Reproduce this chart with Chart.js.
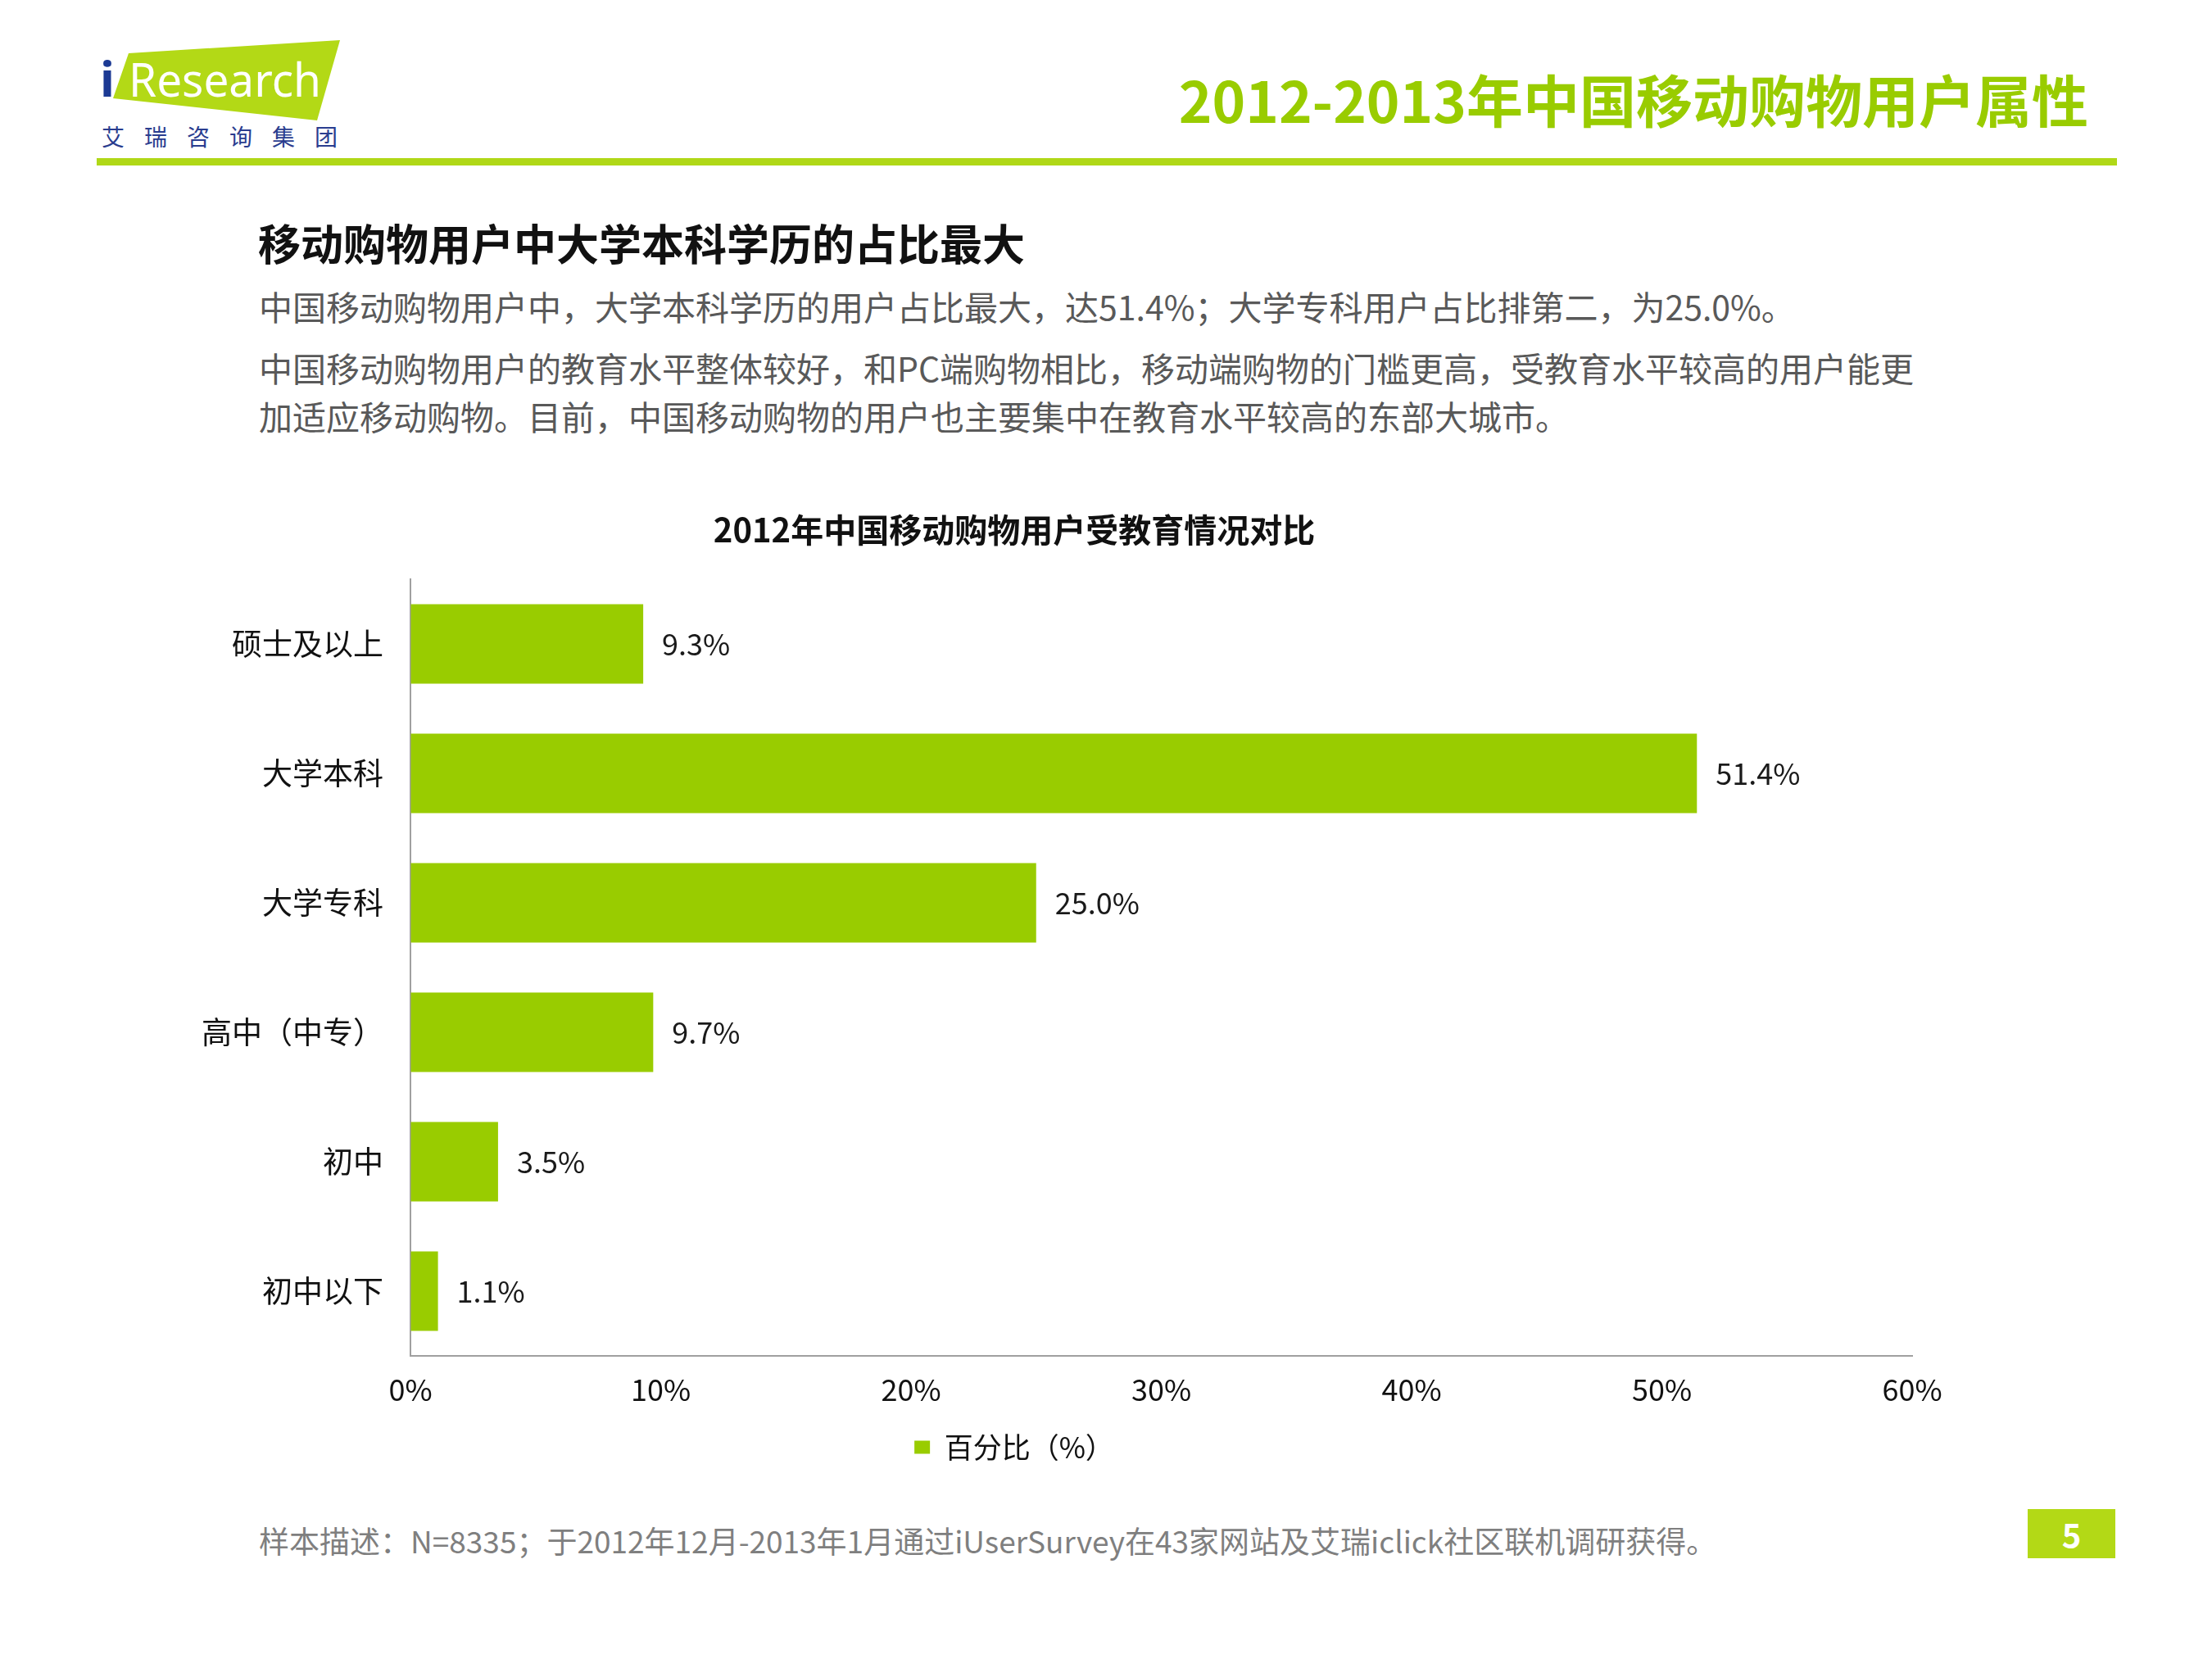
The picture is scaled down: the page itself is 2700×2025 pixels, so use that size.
<!DOCTYPE html>
<html>
<head>
<meta charset="utf-8">
<script src="https://cdn.jsdelivr.net/npm/chart.js@4/dist/chart.umd.min.js"></script>
<style>
  html, body { margin: 0; padding: 0; background: #fff; }
  body { width: 2700px; height: 2025px; position: relative; overflow: hidden;
         font-family: "Noto Sans CJK SC", "Noto Sans", sans-serif; }
  .abs { position: absolute; white-space: nowrap; }
  #logo { left: 0; top: 0; }
  #pageTitle { right: 151px; top: 86px; font-size: 69px; font-weight: 700; color: #99cc00; line-height: 1; }
  #rule { left: 118px; top: 193px; width: 2466px; height: 9px; background: #b0d818; }
  #subTitle { left: 315px; top: 270px; font-size: 52px; font-weight: 700; color: #111; line-height: 1; }
  .para { left: 316px; font-size: 41px; color: #595959; line-height: 1; }
  #footer { left: 316px; top: 1862px; font-size: 37px; color: #7f7f7f; line-height: 1; }
  #pageNo { left: 2475px; top: 1842px; width: 107px; height: 60px; background: #b3d916;
            color: #fff; font-weight: 700; font-size: 40px; text-align: center; line-height: 60px; }
  #chartBox { left: 0; top: 600px; }
</style>
</head>
<body>
<svg id="logo" class="abs" width="460" height="200" viewBox="0 0 460 200">
  <polygon points="157,65 415,49 387,147 138,120" fill="#b3d916"/>
  <text x="122" y="118" font-family="Noto Sans" font-weight="700" font-size="60" fill="#1c3a94">i</text>
  <text x="157" y="118" font-family="Noto Sans" font-size="56" fill="#fff" textLength="235" lengthAdjust="spacingAndGlyphs">Research</text>
  <text x="124" y="178" font-family="Noto Sans CJK SC" font-size="28" fill="#2a3d8f" letter-spacing="24">艾瑞咨询集团</text>
</svg>
<div id="pageTitle" class="abs">2012-2013年中国移动购物用户属性</div>
<div id="rule" class="abs"></div>
<div id="subTitle" class="abs">移动购物用户中大学本科学历的占比最大</div>
<div class="abs para" style="top:353px">中国移动购物用户中，大学本科学历的用户占比最大，达51.4%；大学专科用户占比排第二，为25.0%。</div>
<div class="abs para" style="top:428px">中国移动购物用户的教育水平整体较好，和PC端购物相比，移动端购物的门槛更高，受教育水平较高的用户能更</div>
<div class="abs para" style="top:487px">加适应移动购物。目前，中国移动购物的用户也主要集中在教育水平较高的东部大城市。</div>
<div id="chartBox" class="abs"><canvas id="chart" width="2434" height="1250"></canvas></div>
<div id="footer" class="abs">样本描述：N=8335；于2012年12月-2013年1月通过iUserSurvey在43家网站及艾瑞iclick社区联机调研获得。</div>
<div id="pageNo" class="abs">5</div>

<script>
// Chart data
const categories = ["硕士及以上", "大学本科", "大学专科", "高中（中专）", "初中", "初中以下"];
const shares = [9.3, 51.4, 25.0, 9.7, 3.5, 1.1];
const xTicks = [0, 10, 20, 30, 40, 50, 60];
const seriesName = "百分比（%）";
const chartTitle = "2012年中国移动购物用户受教育情况对比";

const green = "#99cc00";
const fontFamily = '"Noto Sans CJK SC", "Noto Sans", sans-serif';

// value labels at the end of each bar
const barLabels = {
    id: "barLabels",
    afterDatasetsDraw(chart) {
        const ctx = chart.ctx;
        const meta = chart.getDatasetMeta(0);
        ctx.save();
        ctx.font = "36px " + fontFamily;
        ctx.fillStyle = "#1a1a1a";
        ctx.textAlign = "left";
        ctx.textBaseline = "middle";
        meta.data.forEach(function (bar, i) {
            ctx.fillText(shares[i].toFixed(1) + "%", bar.x + 23, bar.y);
        });
        ctx.restore();
    }
};

new Chart(document.getElementById("chart").getContext("2d"), {
    type: "bar",
    data: {
        labels: categories,
        datasets: [{
            label: seriesName,
            data: shares,
            backgroundColor: green,
            borderWidth: 0,
            categoryPercentage: 1,
            barPercentage: 0.615
        }]
    },
    options: {
        indexAxis: "y",
        responsive: false,
        devicePixelRatio: 1,
        animation: false,
        layout: { padding: { left: 142, right: 100, top: 0, bottom: 56 } },
        plugins: {
            title: {
                display: true,
                text: chartTitle,
                color: "#111",
                font: { family: fontFamily, size: 40, weight: "bold", lineHeight: 1.2 },
                padding: { top: 23, bottom: 36 }
            },
            legend: {
                position: "bottom",
                labels: {
                    color: "#111",
                    boxWidth: 19,
                    boxHeight: 16,
                    padding: 10,
                    font: { family: fontFamily, size: 35 }
                }
            },
            tooltip: { enabled: false }
        },
        scales: {
            x: {
                min: 0,
                max: 60,
                afterBuildTicks(scale) {
                    scale.ticks = xTicks.map(v => ({ value: v }));
                },
                afterFit(scale) { scale.height = 84; },
                grid: { display: true, drawOnChartArea: false, drawTicks: false },
                border: { display: true, color: "#a0a0a0", width: 2 },
                ticks: {
                    padding: 20,
                    color: "#111",
                    font: { family: fontFamily, size: 36 },
                    callback: v => v + "%"
                }
            },
            y: {
                afterFit(scale) { scale.width = 359; },
                grid: { display: true, drawOnChartArea: false, drawTicks: false },
                border: { display: true, color: "#a0a0a0", width: 2 },
                ticks: {
                    padding: 33,
                    color: "#111",
                    font: { family: fontFamily, size: 37 }
                }
            }
        }
    },
    plugins: [barLabels]
});
</script>
</body>
</html>
